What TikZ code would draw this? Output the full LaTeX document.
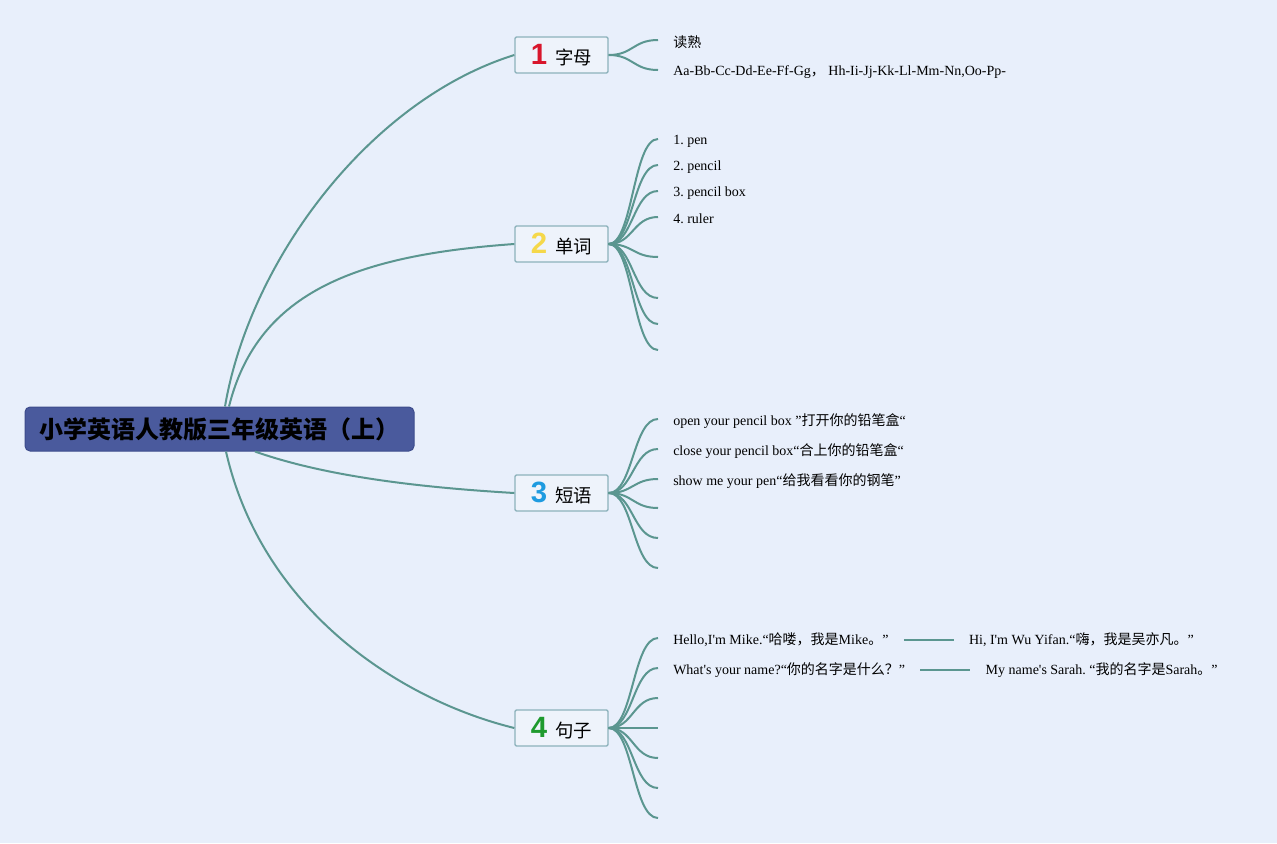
\documentclass[tikz,border=0pt]{standalone}
\usepackage{fontspec}
\setmainfont{Liberation Serif}[Ligatures=TeXOff]
\newfontfamily\cjk{Noto Sans CJK SC}
\newfontfamily\numf{Liberation Sans}
\usetikzlibrary{calc}
\definecolor{bg}{HTML}{E8EFFB}
\definecolor{edge}{HTML}{5B9690}
\definecolor{rootfill}{HTML}{4A5A9D}
\definecolor{rootdraw}{HTML}{3D4C8C}
\definecolor{boxfill}{HTML}{EEF3FB}
\definecolor{boxdraw}{HTML}{8DB2BB}
\definecolor{nred}{HTML}{D8162C}
\definecolor{nyellow}{HTML}{F5D84A}
\definecolor{nblue}{HTML}{1E9BE0}
\definecolor{ngreen}{HTML}{1E9A2E}
\newcommand{\zh}[1]{{\cjk #1}}
\newcommand{\topiclabel}[3]{{\numf\bfseries\fontsize{22}{22}\selectfont\textcolor{#1}{#2}}\hspace{6pt}{\cjk\fontsize{13.8}{15}\selectfont #3}}
\frenchspacing
\begin{document}
\begin{tikzpicture}[x=0.75pt,y=-0.75pt,
  conn/.style={draw=edge,line width=1.5pt},
  rootbox/.style={rectangle,rounded corners=3.75pt,fill=rootfill,draw=rootdraw,line width=0.75pt,minimum width=291.75pt,minimum height=33pt,inner sep=0pt},
  topic/.style={rectangle,fill=boxfill,draw=boxdraw,line width=1pt,minimum width=69.75pt,minimum height=27pt,inner sep=0pt,rounded corners=1pt},
  leaf/.style={anchor=west,inner xsep=11.25pt,inner ysep=0pt,yshift=-1.5pt,font=\fontsize{10.5}{13}\selectfont,text=black}]
\path[fill=bg] (0,0) rectangle (1277,843);
% root
\node[rootbox] (root) at (219.5,429) {\cjk\bfseries\fontsize{18}{20}\selectfont 小学英语人教版三年级英语（上）};
% topics
\node[topic] (b1) at (561.5,55) {\topiclabel{nred}{1}{字母}};
\node[topic] (b2) at (561.5,244) {\topiclabel{nyellow}{2}{单词}};
\node[topic] (b3) at (561.5,493) {\topiclabel{nblue}{3}{短语}};
\node[topic] (b4) at (561.5,728) {\topiclabel{ngreen}{4}{句子}};
% root connectors
\coordinate (r1) at ($(root.north)+(5.5,0)$);
\coordinate (r2) at ($(root.north)+(9.5,0)$);
\coordinate (r3) at ($(root.south)+(35.5,0)$);
\coordinate (r4) at ($(root.south)+(6.5,0)$);
\draw[conn] (r1) .. controls (250,260) and (370,100) .. (b1.west);
\draw[conn] (r2) .. controls (258,290) and (360,255) .. (b2.west);
\draw[conn] (r3) .. controls (330,478) and (430,488) .. (b3.west);
\draw[conn] (r4) .. controls (262,610) and (400,700) .. (b4.west);
% branch 1
\coordinate (c11) at (658,40);
\coordinate (c12) at (658,70);
\node[leaf] (l11) at (c11) {\zh{读熟}};
\node[leaf] (l12) at (c12) {Aa-Bb-Cc-Dd-Ee-Ff-Gg\zh{，} Hh-Ii-Jj-Kk-Ll-Mm-Nn,Oo-Pp-};
\draw[conn] (b1.east) .. controls (633,55) and (633,40) .. (c11);
\draw[conn] (b1.east) .. controls (633,55) and (633,70) .. (c12);
% branch 2
\coordinate (c21) at (658,139);
\coordinate (c22) at (658,165);
\coordinate (c23) at (658,191);
\coordinate (c24) at (658,217);
\coordinate (c25) at (658,257);
\coordinate (c26) at (658,298);
\coordinate (c27) at (658,324);
\coordinate (c28) at (658,350);
\node[leaf] (l21) at (c21) {1. pen};
\node[leaf] (l22) at (c22) {2. pencil};
\node[leaf] (l23) at (c23) {3. pencil box};
\node[leaf] (l24) at (c24) {4. ruler};
\foreach \n/\y in {c21/139,c22/165,c23/191,c24/217,c25/257,c26/298,c27/324,c28/350}
  \draw[conn] (b2.east) .. controls (633,244) and (633,\y) .. (\n);
% branch 3
\coordinate (c31) at (658,419);
\coordinate (c32) at (658,449);
\coordinate (c33) at (658,479);
\coordinate (c34) at (658,508);
\coordinate (c35) at (658,538);
\coordinate (c36) at (658,568);
\node[leaf] (l31) at (c31) {open your pencil box ”\zh{打开你的铅笔盒}“};
\node[leaf] (l32) at (c32) {close your pencil box“\zh{合上你的铅笔盒}“};
\node[leaf] (l33) at (c33) {show me your pen“\zh{给我看看你的钢笔}”};
\foreach \n/\y in {c31/419,c32/449,c33/479,c34/508,c35/538,c36/568}
  \draw[conn] (b3.east) .. controls (633,493) and (633,\y) .. (\n);
% branch 4
\coordinate (c41) at (658,638);
\coordinate (c42) at (658,668);
\coordinate (c43) at (658,698);
\coordinate (c44) at (658,728);
\coordinate (c45) at (658,758);
\coordinate (c46) at (658,788);
\coordinate (c47) at (658,818);
\node[leaf] (l41) at (c41) {Hello,I'm Mike.“\zh{哈喽，我是}Mike\zh{。}”};
\node[leaf] (l41b) at ($(l41.east)+(50,-2)$) {Hi, I'm Wu Yifan.“\zh{嗨，我是吴亦凡。}”};
\node[leaf] (l42) at (c42) {What's your name?“\zh{你的名字是什么？}”};
\node[leaf] (l42b) at ($(l42.east)+(50,-2)$) {My name's Sarah. “\zh{我的名字是}Sarah\zh{。}”};
\draw[conn] (l41.east) -- (l41b.west);
\draw[conn] (l42.east) -- (l42b.west);
\foreach \n/\y in {c41/638,c42/668,c43/698,c44/728,c45/758,c46/788,c47/818}
  \draw[conn] (b4.east) .. controls (633,728) and (633,\y) .. (\n);
\end{tikzpicture}
\end{document}
